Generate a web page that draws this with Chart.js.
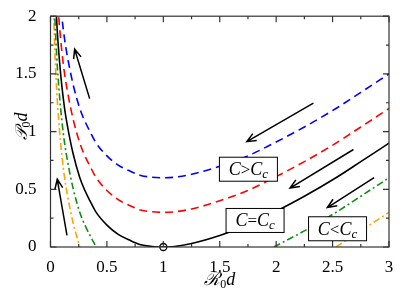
<!DOCTYPE html>
<html>
<head>
<meta charset="utf-8">
<script src="https://cdn.jsdelivr.net/npm/chart.js@4.4.1/dist/chart.umd.min.js"></script>
<style>
  html, body { margin: 0; padding: 0; background: #fff; }
</style>
</head>
<body>
<canvas id="chart" width="409" height="292"></canvas>
<script>
// ---------- data ----------
const R_GRID = [0.02, 0.03, 0.04, 0.05, 0.06, 0.08, 0.1, 0.125, 0.15, 0.2, 0.26, 0.3, 0.35, 0.405,
  0.5, 0.6, 0.7, 0.8, 0.9, 1.0, 1.1, 1.25, 1.5, 1.75, 1.98, 2.25, 2.53, 2.75, 3.0];

const P_ABOVE = [3.53, 3.14, 2.86, 2.65, 2.47, 2.21, 2.0, 1.8, 1.65, 1.41, 1.2, 1.1, 1.0, 0.9,
  0.79, 0.71, 0.66, 0.62, 0.605, 0.6, 0.605, 0.63, 0.7, 0.79, 0.9, 1.04, 1.2, 1.34, 1.5];
const P_MID = [3.23, 2.84, 2.56, 2.35, 2.17, 1.91, 1.7, 1.5, 1.35, 1.11, 0.9, 0.8, 0.7, 0.6,
  0.49, 0.41, 0.36, 0.32, 0.305, 0.3, 0.305, 0.33, 0.4, 0.49, 0.6, 0.74, 0.9, 1.04, 1.2];
const P_CRIT = [2.93, 2.54, 2.26, 2.05, 1.87, 1.61, 1.4, 1.2, 1.05, 0.81, 0.6, 0.5, 0.4, 0.3,
  0.19, 0.11, 0.06, 0.02, 0.005, 0, 0.005, 0.03, 0.1, 0.19, 0.3, 0.44, 0.6, 0.74, 0.9];
const P_BELOW1 = [2.63, 2.24, 1.96, 1.75, 1.57, 1.31, 1.1, 0.9, 0.75, 0.51, 0.3, 0.2, 0.1, 0,
  null, null, null, null, null, null, null, null, null, null, 0, 0.14, 0.3, 0.44, 0.6];
const P_BELOW2 = [2.33, 1.94, 1.66, 1.45, 1.27, 1.01, 0.8, 0.6, 0.45, 0.21, 0, null, null, null,
  null, null, null, null, null, null, null, null, null, null, null, null, 0, 0.14, 0.3];

const X_TICKS = [0, 0.5, 1, 1.5, 2, 2.5, 3];
const Y_TICKS = [0, 0.5, 1, 1.5, 2];

// arrows [x tail, y tail, x head, y head] in data units
const ARROWS = [
  [0.347, 1.286, 0.214, 1.714],
  [0.146, 0.10, 0.06, 0.587],
  [2.33, 1.246, 1.74, 0.913],
  [2.685, 0.845, 2.123, 0.511],
  [2.868, 0.602, 2.454, 0.342],
];
const LABEL_OPS = [">", "=", "<"];
const LABEL_X = [1.754, 1.813, 2.544];
const LABEL_Y = [0.674, 0.23, 0.158];

// ---------- helpers ----------
const SERIF = '"Liberation Serif", "DejaVu Serif", serif';
Chart.defaults.font.family = SERIF;
const pts = (ys) => R_GRID.map((x, i) => ({ x, y: ys[i] }));

function drawRich(ctx, parts, cx, base) {
  let w = 0;
  parts.forEach((p) => { ctx.font = p.f; w += ctx.measureText(p.t).width; });
  let x = cx - w / 2;
  ctx.textAlign = "left";
  ctx.textBaseline = "alphabetic";
  parts.forEach((p) => {
    ctx.font = p.f;
    ctx.fillText(p.t, x, base + (p.dy || 0));
    x += ctx.measureText(p.t).width;
  });
}

function arrow(ctx, x1, y1, x2, y2) {
  const a = Math.atan2(y2 - y1, x2 - x1);
  const L = 10, s = 0.4;
  ctx.beginPath();
  ctx.moveTo(x1, y1);
  ctx.lineTo(x2, y2);
  ctx.moveTo(x2 - L * Math.cos(a - s), y2 - L * Math.sin(a - s));
  ctx.lineTo(x2, y2);
  ctx.lineTo(x2 - L * Math.cos(a + s), y2 - L * Math.sin(a + s));
  ctx.stroke();
}

const decor = {
  id: "decor",
  afterDatasetsDraw(chart) {
    const { ctx, chartArea: ca, scales } = chart;
    const sx = scales.x, sy = scales.y;
    ctx.save();

    // frame
    ctx.strokeStyle = "#333";
    ctx.lineWidth = 1.2;
    ctx.strokeRect(ca.left, ca.top, ca.right - ca.left, ca.bottom - ca.top);

    // inward ticks on all four sides
    for (let v = 0; v <= 3.001; v += 0.25) {
      const px = sx.getPixelForValue(v);
      const len = Math.abs(v * 2 - Math.round(v * 2)) < 0.01 ? 6 : 3;
      ctx.beginPath();
      ctx.moveTo(px, ca.bottom); ctx.lineTo(px, ca.bottom - len);
      ctx.moveTo(px, ca.top); ctx.lineTo(px, ca.top + len);
      ctx.stroke();
    }
    for (let v = 0; v <= 2.001; v += 0.25) {
      const py = sy.getPixelForValue(v);
      const len = Math.abs(v * 2 - Math.round(v * 2)) < 0.01 ? 6 : 3;
      ctx.beginPath();
      ctx.moveTo(ca.left, py); ctx.lineTo(ca.left + len, py);
      ctx.moveTo(ca.right, py); ctx.lineTo(ca.right - len, py);
      ctx.stroke();
    }

    // arrows
    ctx.strokeStyle = "#000";
    ctx.lineWidth = 1.5;
    ARROWS.forEach((a) => {
      arrow(ctx, sx.getPixelForValue(a[0]), sy.getPixelForValue(a[1]),
        sx.getPixelForValue(a[2]), sy.getPixelForValue(a[3]));
    });

    // boxed labels
    LABEL_OPS.forEach((op, i) => {
      const cx = sx.getPixelForValue(LABEL_X[i]);
      const cy = sy.getPixelForValue(LABEL_Y[i]);
      const w = 58, h = 24;
      ctx.fillStyle = "#fff";
      ctx.fillRect(cx - w / 2, cy - h / 2, w, h);
      ctx.strokeStyle = "#000";
      ctx.lineWidth = 1;
      ctx.strokeRect(cx - w / 2, cy - h / 2, w, h);
      ctx.fillStyle = "#000";
      drawRich(ctx, [
        { t: "C", f: "italic 18px " + SERIF },
        { t: op, f: "17px " + SERIF },
        { t: "C", f: "italic 18px " + SERIF },
        { t: "c", f: "italic 13px " + SERIF, dy: 3 },
      ], cx, cy + 6);
    });

    // axis titles
    ctx.fillStyle = "#000";
    drawRich(ctx, [
      { t: "\u211B", f: "italic 18px " + SERIF },
      { t: "0", f: "12px " + SERIF, dy: 3 },
      { t: "d", f: "italic 18px " + SERIF },
    ], (ca.left + ca.right) / 2, 285);
    ctx.translate(27, 126);
    ctx.rotate(-Math.PI / 2);
    drawRich(ctx, [
      { t: "\u{1D4AB}", f: "italic 17px " + SERIF },
      { t: "0", f: "12px " + SERIF, dy: 3 },
      { t: "d", f: "italic 18px " + SERIF },
    ], 0, 0);
    ctx.restore();
  },
};

// ---------- chart ----------
const lineDs = (data, color, dash) => ({
  data: pts(data),
  borderColor: color,
  borderWidth: 1.6,
  borderDash: dash,
  pointRadius: 0,
  fill: false,
  spanGaps: false,
  cubicInterpolationMode: "monotone",
});

new Chart(document.getElementById("chart"), {
  type: "line",
  data: {
    datasets: [
      lineDs(P_ABOVE, "#0000ff", [8, 5]),
      lineDs(P_MID, "#ff0000", [8, 5]),
      lineDs(P_CRIT, "#000000", []),
      lineDs(P_BELOW1, "#109010", [7, 3, 2, 3]),
      lineDs(P_BELOW2, "#ffa500", [7, 3, 2, 3]),
      {
        data: [{ x: 1, y: 0 }],
        showLine: false,
        pointRadius: 3.5,
        pointBackgroundColor: "#fff",
        pointBorderColor: "#000",
        pointBorderWidth: 1.3,
        clip: false,
      },
    ],
  },
  options: {
    responsive: false,
    animation: false,
    devicePixelRatio: 1,
    layout: { padding: { left: 0, right: 20, top: 11, bottom: 0 } },
    plugins: { legend: { display: false }, tooltip: { enabled: false } },
    scales: {
      x: {
        type: "linear",
        min: 0,
        max: 3,
        afterFit: (s) => { s.height = 45; },
        afterBuildTicks: (s) => { s.ticks = X_TICKS.map((v) => ({ value: v })); },
        grid: { display: false },
        border: { display: false },
        ticks: { color: "#000", padding: 2, font: { family: SERIF, size: 17 }, callback: (v) => String(v) },
      },
      y: {
        type: "linear",
        min: 0,
        max: 2,
        afterFit: (s) => { s.width = 50.5; },
        afterBuildTicks: (s) => { s.ticks = Y_TICKS.map((v) => ({ value: v })); },
        grid: { display: false },
        border: { display: false },
        ticks: { color: "#000", padding: 6, font: { family: SERIF, size: 17 }, callback: (v) => String(v) },
      },
    },
  },
  plugins: [decor],
});
</script>
</body>
</html>
